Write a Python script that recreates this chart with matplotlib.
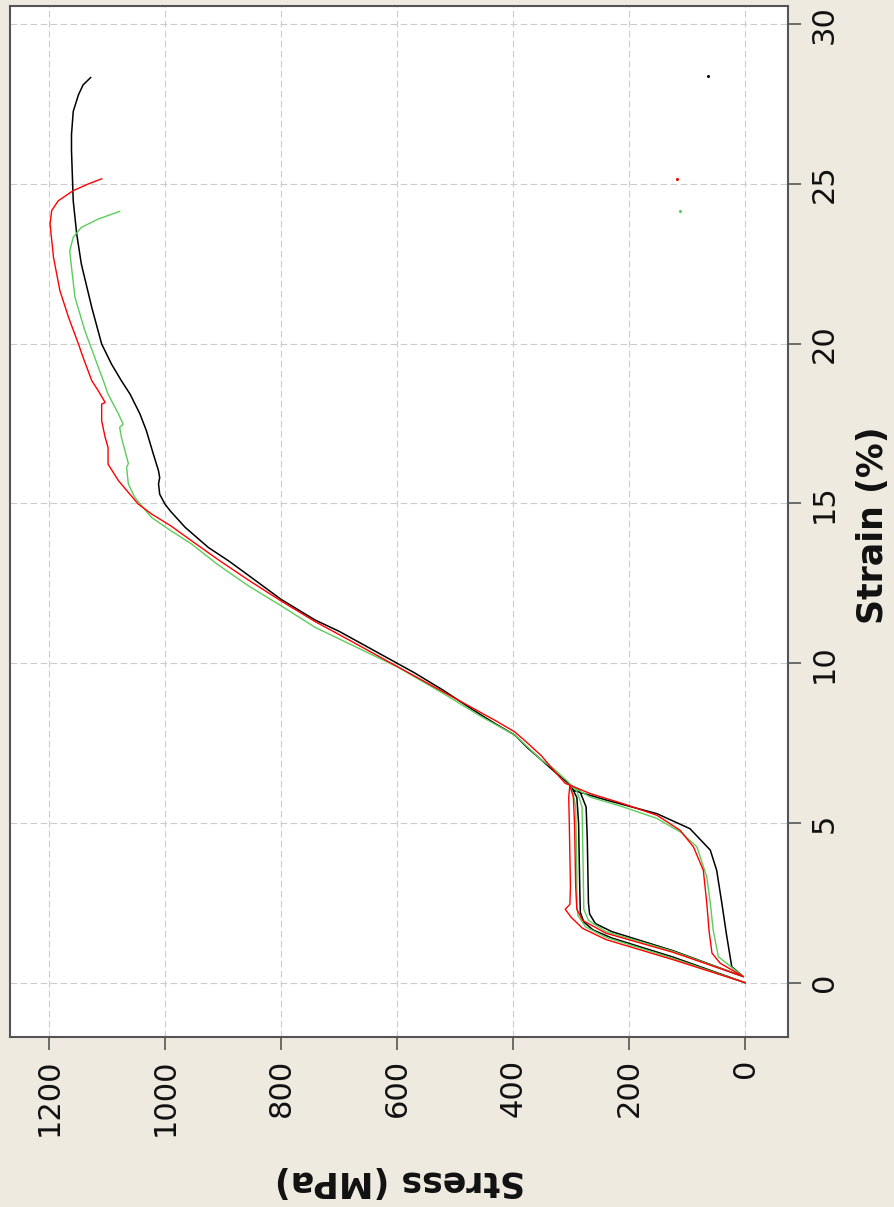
import matplotlib
matplotlib.use('Agg')
import matplotlib.pyplot as plt

# Axis ticks
stress_ticks = [0, 200, 400, 600, 800, 1000, 1200]
strain_ticks = [0, 5, 10, 15, 20, 25, 30]

# Curves: load, unload, reload and pull to failure
black_stress = [0, 124, 230, 262, 278, 284, 285, 286, 287, 290, 300,
                296, 238, 152, 95, 60, 49, 40, 32, 23, 3,
                124, 230, 258, 268, 270, 271, 272, 274, 285, 302,
                325, 351, 375, 397, 430, 470, 520, 570, 600, 650, 700, 741, 800, 856,
                890, 925, 965, 990, 1000, 1009, 1011, 1009, 1011, 1020, 1032, 1043,
                1060, 1075, 1092, 1109, 1126, 1144, 1152, 1158, 1161, 1161, 1158,
                1149, 1141, 1128]
black_strain = [0, 0.80, 1.40, 1.65, 1.90, 2.20, 3.0, 4.0, 5.0, 5.8, 6.15,
                6.02, 5.71, 5.29, 4.82, 4.15, 3.52, 2.48, 1.5, 0.5, 0.19,
                1.0, 1.6, 1.85, 2.15, 2.5, 3.5, 4.5, 5.5, 6.0, 6.2,
                6.55, 6.97, 7.35, 7.75, 8.1, 8.55, 9.15, 9.7, 10.0, 10.5, 11.0, 11.35, 12.0, 12.75,
                13.2, 13.62, 14.25, 14.75, 14.98, 15.29, 15.61, 15.81, 16.02, 16.55, 17.28, 17.8,
                18.42, 18.84, 19.36, 19.99, 21.13, 22.49, 23.43, 24.47, 26.04, 26.55, 27.27,
                27.79, 28.1, 28.33]

red_stress = [0, 124, 240, 280, 300, 310, 302, 301, 302, 303, 304, 302,
              267, 210, 152, 112, 89, 72, 66, 62, 57, 43, 3,
              124, 240, 280, 290, 292, 293, 294, 296, 302,
              310, 330, 351, 375, 397, 430, 470, 520, 570, 620, 680, 741, 800, 856,
              905, 954, 990, 1023, 1046, 1080, 1098, 1098, 1103, 1109, 1109, 1103,
              1115, 1126, 1141, 1149, 1166, 1181, 1192, 1198, 1195, 1184, 1158, 1132, 1109]
red_strain = [0, 0.72, 1.35, 1.70, 2.05, 2.30, 2.45, 3.0, 4.0, 5.0, 5.8, 6.18,
              5.92, 5.6, 5.24, 4.77, 4.25, 3.52, 2.48, 1.6, 0.92, 0.61, 0.19,
              0.95, 1.55, 1.95, 2.3, 3.0, 4.0, 5.0, 5.8, 6.18,
              6.24, 6.65, 7.1, 7.5, 7.85, 8.2, 8.6, 9.1, 9.6, 10.1, 10.7, 11.3, 11.95, 12.6,
              13.2, 13.83, 14.3, 14.67, 14.98, 15.71, 16.23, 16.75, 17.07, 17.59, 18.11, 18.16,
              18.53, 18.84, 19.57, 19.99, 20.82, 21.66, 22.7, 23.75, 24.17, 24.47, 24.79, 25.0, 25.16]

green_stress = [0, 124, 240, 275, 288, 290, 290, 291, 292, 296, 302,
                267, 210, 152, 110, 83, 66, 60, 55, 46, 3,
                124, 240, 270, 278, 279, 280, 281, 290, 306,
                330, 351, 397, 454, 520, 600, 670, 741, 800, 856, 910, 954, 990, 1023,
                1052, 1063, 1066, 1063, 1075, 1078, 1072, 1080, 1098, 1106, 1121, 1138,
                1155, 1161, 1164, 1158, 1144, 1115, 1078]
green_strain = [0, 0.76, 1.42, 1.75, 2.1, 2.4, 3.5, 4.5, 5.5, 5.9, 6.18,
                5.81, 5.5, 5.14, 4.7, 4.25, 3.31, 2.5, 1.65, 0.81, 0.19,
                0.98, 1.6, 1.95, 2.3, 3.5, 4.5, 5.5, 6.0, 6.3,
                6.7, 6.97, 7.75, 8.32, 9.05, 9.89, 10.5, 11.12, 11.8, 12.42, 13.1, 13.73, 14.15, 14.56,
                15.19, 15.61, 16.13, 16.25, 17.07, 17.38, 17.48, 17.8, 18.42, 18.84, 19.57, 20.41,
                21.45, 22.39, 22.91, 23.33, 23.64, 23.9, 24.14]

# last point of each sample after it broke
break_stress = [64, 118, 113]
break_strain = [28.38, 25.15, 24.16]
series_colors = ['black', '#FF0000', '#5ACD5A']

fig = plt.figure(figsize=(8.95, 12.07), dpi=100, facecolor='#EEEAE0')
ax = fig.add_axes([0.01117, 0.14085, 0.8693, 0.8542])

# the chart is turned on its side: stress runs right to left, strain bottom to top
ax.plot(black_stress, black_strain, color=series_colors[0], lw=1.1)
ax.plot(green_stress, green_strain, color=series_colors[2], lw=1.0)
ax.plot(red_stress, red_strain, color=series_colors[1], lw=1.0)
for s, e, c in zip(break_stress, break_strain, series_colors):
    ax.plot([s], [e], marker='o', ms=1.2, color=c, ls='none')

ax.set_xlim(1267, -74)
ax.set_ylim(-1.70, 30.57)

ax.yaxis.tick_right()
ax.set_xticks(stress_ticks, [str(t) for t in stress_ticks], rotation=90, ha='center', va='top')
ax.set_yticks(strain_ticks, [str(t) for t in strain_ticks], rotation=90, ha='left', va='center')
ax.tick_params(axis='both', direction='out', length=9.5, width=1.2, color='#555555',
               labelsize=22, labelcolor='#111111', pad=6)

for sp in ax.spines.values():
    sp.set_color('#555555')
    sp.set_linewidth(1.5)

ax.grid(True, color='#CCCCCC', linestyle=(0, (6, 3)), linewidth=0.8)
ax.set_axisbelow(True)

ax.set_xlabel('Stress (MPa)', fontsize=25, fontweight='bold', rotation=180,
              ha='center', va='center', color='#111111')
ax.xaxis.set_label_coords(0.5006, -0.140)
ax.yaxis.set_label_position('right')
ax.set_ylabel('Strain (%)', fontsize=25, fontweight='bold', rotation=90,
              ha='center', va='center', color='#111111')
ax.yaxis.set_label_coords(1.109, 0.4966)

fig.savefig('out.png', dpi=100, facecolor=fig.get_facecolor())
